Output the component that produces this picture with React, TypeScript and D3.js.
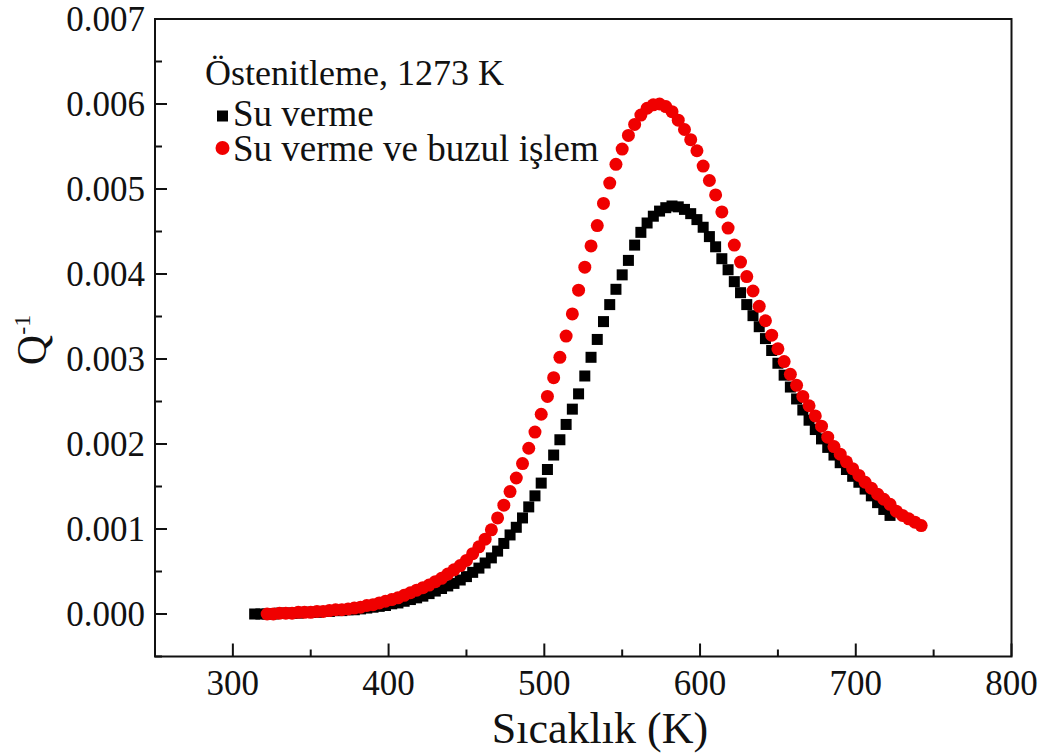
import React from "react";
import * as d3 from "d3";

// Internal friction Q^-1 versus temperature for two heat treatments
const xTicks = [300, 400, 500, 600, 700, 800];
const xMinorTicks = [250, 350, 450, 550, 650, 750];
const yTicks = [0, 0.001, 0.002, 0.003, 0.004, 0.005, 0.006, 0.007];
const yMinorTicks = [-0.0005, 0.0005, 0.0015, 0.0025, 0.0035, 0.0045, 0.0055, 0.0065];

const seriesNames = ["Su verme", "Su verme ve buzul işlem"];
const legendTitle = "Östenitleme, 1273 K";

// [temperature K, Q^-1]
const suVerme: [number, number][] = [
  [314, 0.0], [318, 0.0], [322, 0.0], [326, 0.0], [330, 0.00001], [334, 0.00001],
  [338, 0.00001], [342, 0.00001], [346, 0.00002], [350, 0.00002], [354, 0.00002],
  [358, 0.00003], [362, 0.00003], [366, 0.00004], [370, 0.00004], [374, 0.00005],
  [378, 0.00005], [382, 0.00006], [386, 0.00007], [390, 0.00008], [394, 0.00009],
  [398, 0.0001], [402, 0.00012], [406, 0.00013], [410, 0.00015], [414, 0.00017],
  [418, 0.00019], [422, 0.00021], [426, 0.00024], [430, 0.00027], [434, 0.0003],
  [438, 0.00033], [442, 0.00036], [446, 0.0004], [450, 0.00044], [454, 0.00049],
  [458, 0.00054], [462, 0.0006], [466, 0.00066], [470, 0.00074], [474, 0.00083],
  [478, 0.00093], [482, 0.00102], [486, 0.00113], [490, 0.00126], [494, 0.00139],
  [498, 0.00154], [502, 0.0017], [506, 0.00187], [510, 0.00205], [514, 0.00223],
  [518, 0.00241], [522, 0.00259], [526, 0.0028], [530, 0.00302], [534, 0.00323],
  [538, 0.00344], [542, 0.00364], [546, 0.00382], [550, 0.00399], [554, 0.00416],
  [558, 0.00434], [562, 0.00449], [566, 0.0046], [570, 0.00468], [574, 0.00474],
  [578, 0.00478], [582, 0.0048], [586, 0.00479], [590, 0.00476], [594, 0.00471],
  [598, 0.00464], [602, 0.00455], [606, 0.00444], [610, 0.00432], [614, 0.00418],
  [618, 0.00405], [622, 0.00391], [626, 0.00378], [630, 0.00364], [634, 0.00351],
  [638, 0.00338], [642, 0.00324], [646, 0.0031], [650, 0.00295], [654, 0.00281],
  [658, 0.00267], [662, 0.00253], [666, 0.0024], [670, 0.00228], [674, 0.00217],
  [678, 0.00206], [682, 0.00196], [686, 0.00187], [690, 0.00178], [694, 0.0017],
  [698, 0.00162], [702, 0.00155], [706, 0.00147], [710, 0.00139], [714, 0.00131],
  [718, 0.00123], [722, 0.00116],
];

const suVermeBuzul: [number, number][] = [
  [322, 0.0], [326, 0.0], [330, 0.00001], [334, 0.00001], [338, 0.00001], [342, 0.00002],
  [346, 0.00002], [350, 0.00002], [354, 0.00003], [358, 0.00003], [362, 0.00004],
  [366, 0.00005], [370, 0.00005], [374, 0.00006], [378, 0.00007], [382, 0.00008],
  [386, 0.0001], [390, 0.00011], [394, 0.00013], [398, 0.00015], [402, 0.00017],
  [406, 0.00019], [410, 0.00022], [414, 0.00025], [418, 0.00028], [422, 0.00031],
  [426, 0.00034], [430, 0.00038], [434, 0.00042], [438, 0.00047], [442, 0.00052],
  [446, 0.00057], [450, 0.00063], [454, 0.00071], [458, 0.00079], [462, 0.00088],
  [466, 0.00099], [470, 0.00113], [474, 0.00128], [478, 0.00144], [482, 0.0016],
  [486, 0.00177], [490, 0.00195], [494, 0.00214], [498, 0.00235], [502, 0.00256],
  [506, 0.00278], [510, 0.00302], [514, 0.00327], [518, 0.00353], [522, 0.00381],
  [526, 0.00408], [530, 0.00433], [534, 0.00457], [538, 0.00483], [542, 0.00507],
  [546, 0.00529], [550, 0.00547], [554, 0.00563], [558, 0.00576], [562, 0.00587],
  [566, 0.00595], [570, 0.00599], [574, 0.006], [578, 0.00597], [582, 0.00591],
  [586, 0.00581], [590, 0.0057], [594, 0.00558], [598, 0.00545], [602, 0.00527],
  [606, 0.0051], [610, 0.00493], [614, 0.00473], [618, 0.00454], [622, 0.00434],
  [626, 0.00414], [630, 0.00397], [634, 0.0038], [638, 0.00362], [642, 0.00345],
  [646, 0.00328], [650, 0.00312], [654, 0.00297], [658, 0.00282], [662, 0.00269],
  [666, 0.00256], [670, 0.00245], [674, 0.00233], [678, 0.00221], [682, 0.00208],
  [686, 0.00197], [690, 0.00188], [694, 0.00179], [698, 0.00171], [702, 0.00163],
  [706, 0.00155], [710, 0.00148], [714, 0.00141], [718, 0.00135], [722, 0.00129],
  [726, 0.00121], [730, 0.00116], [734, 0.00112], [738, 0.00108], [742, 0.00104],
];

const FONT = "'Liberation Serif', 'Times New Roman', Times, serif";
const RED = "#f00000";

export default function App() {
  const W = 1041;
  const H = 755;
  const x = d3.scaleLinear().domain([250, 800]).range([155, 1011.5]);
  const y = d3.scaleLinear().domain([-0.0005, 0.007]).range([656.5, 19]);
  const [x0, x1] = x.range();
  const [yBottom, yTop] = y.range();
  const fmt = d3.format(".3f");
  const sq = 11;

  return (
    <svg
      width={W}
      height={H}
      style={{ position: "absolute", left: 0, top: 0, background: "#fff" }}
      fontFamily={FONT}
    >
      {/* frame */}
      <rect
        x={x0}
        y={yTop}
        width={x1 - x0}
        height={yBottom - yTop}
        fill="none"
        stroke="#111"
        strokeWidth={2}
      />
      {/* x ticks */}
      {xTicks.map((t) => (
        <g key={"xt" + t}>
          <line x1={x(t)} x2={x(t)} y1={yBottom} y2={yBottom - 13} stroke="#111" strokeWidth={2} />
          <text x={x(t)} y={695} textAnchor="middle" fontSize={35} fill="#111">
            {t}
          </text>
        </g>
      ))}
      {xMinorTicks.map((t) => (
        <line key={"xm" + t} x1={x(t)} x2={x(t)} y1={yBottom} y2={yBottom - 7} stroke="#111" strokeWidth={2} />
      ))}
      {/* y ticks */}
      {yTicks.map((t) => (
        <g key={"yt" + t}>
          <line x1={x0} x2={x0 + 12} y1={y(t)} y2={y(t)} stroke="#111" strokeWidth={2} />
          <text x={145} y={y(t)} dy="0.35em" textAnchor="end" fontSize={35} fill="#111">
            {fmt(t)}
          </text>
        </g>
      ))}
      {yMinorTicks.map((t) => (
        <line key={"ym" + t} x1={x0} x2={x0 + 7} y1={y(t)} y2={y(t)} stroke="#111" strokeWidth={2} />
      ))}
      {/* axis titles */}
      <text x={600} y={743} textAnchor="middle" fontSize={44} fill="#111">
        Sıcaklık (K)
      </text>
      <text transform="translate(46,340) rotate(-90)" textAnchor="middle" fontSize={42} fill="#111">
        Q<tspan dy={-16} fontSize={24}>-1</tspan>
      </text>

      {/* series */}
      <g>
        {suVerme.map(([t, v], i) => (
          <rect key={"b" + i} x={x(t) - sq / 2} y={y(v) - sq / 2} width={sq} height={sq} fill="#000" />
        ))}
      </g>
      <g>
        {suVermeBuzul.map(([t, v], i) => (
          <circle key={"r" + i} cx={x(t)} cy={y(v)} r={6.5} fill={RED} />
        ))}
      </g>

      {/* legend */}
      <text x={205} y={85} fontSize={36} fill="#111">
        {legendTitle}
      </text>
      <rect x={217} y={110.5} width={11} height={11} fill="#000" />
      <text x={233} y={126} fontSize={37} fill="#111">
        {seriesNames[0]}
      </text>
      <circle cx={222.5} cy={148} r={7} fill={RED} />
      <text x={233} y={161} fontSize={37} fill="#111">
        {seriesNames[1]}
      </text>
    </svg>
  );
}
